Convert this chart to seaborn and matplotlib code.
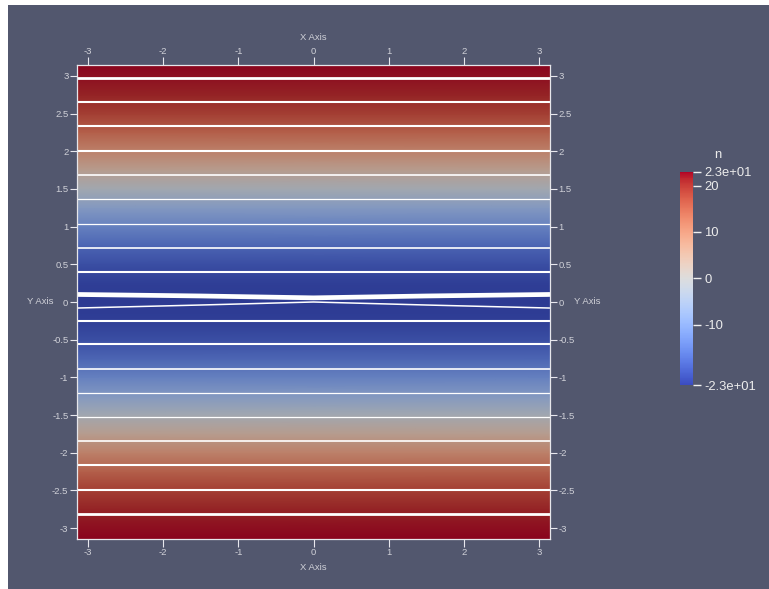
import numpy as np
import pandas as pd
import matplotlib
matplotlib.use("Agg")
import matplotlib.pyplot as plt
from matplotlib.colors import ListedColormap, Normalize
from matplotlib.patches import Rectangle
import matplotlib.cm as cm
import seaborn as sns

# ---------------- data ----------------
y_samples = [-3.1416, -2.75, -2.5, -2.25, -2.0, -1.75, -1.5, -1.25, -1.0, -0.75, -0.5, -0.25, 0.0,
             0.25, 0.5, 0.75, 1.0, 1.25, 1.5, 1.75, 2.0, 2.25, 2.5, 2.75, 3.1416]
n_values = [23.0, 21.1, 18.4, 14.4, 9.6, 4.1, -1.6, -7.3, -12.4, -16.8, -20.2, -22.3, -23.0,
            -22.3, -20.2, -16.8, -12.4, -7.3, -1.6, 4.1, 9.6, 14.4, 18.4, 21.1, 23.0]
x_extent = [-3.1416, 3.1416]

stream_levels = [2.97, 2.66, 2.33, 2.00, 1.69, 1.37, 1.04, 0.72, 0.40,
                 -0.25, -0.56, -0.89, -1.21, -1.53, -1.85, -2.17, -2.49, -2.81]
stream_widths = [2.0, 1.5, 1.5, 1.5, 1.2, 0.9, 0.9, 1.2, 1.5,
                 1.5, 1.5, 1.2, 0.9, 0.9, 1.2, 1.5, 1.5, 2.0]
core_x = [-3.1416, -1.5, 0.0, 1.5, 3.1416]
core_upper_y = [0.10, 0.08, 0.055, 0.08, 0.10]
core_lower_y = [-0.08, -0.04, 0.0, -0.04, -0.08]
core_widths = [3.4, 1.1]

x_ticks = [-3, -2, -1, 0, 1, 2, 3]
y_ticks = [-3, -2.5, -2, -1.5, -1, -0.5, 0, 0.5, 1, 1.5, 2, 2.5, 3]
x_ticklabels = ["-3", "-2", "-1", "0", "1", "2", "3"]
y_ticklabels = ["-3", "-2.5", "-2", "-1.5", "-1", "-0.5", "0", "0.5", "1", "1.5", "2", "2.5", "3"]
cbar_ticks = [23, 20, 10, 0, -10, -23]
cbar_ticklabels = ["2.3e+01", "20", "10", "0", "-10", "-2.3e+01"]
n_min, n_max = -23.0, 23.0

# ---------------- style ----------------
sns.set_style("white")
plt.rcParams["font.family"] = ["Liberation Sans", "DejaVu Sans"]

W, H = 769, 589
fig = plt.figure(figsize=(W / 100, H / 100), dpi=100, facecolor="white")
bg = "#52576e"
fig.patches.append(Rectangle((8 / W, 0), 1 - 8 / W, 1 - 5 / H, transform=fig.transFigure,
                             facecolor=bg, edgecolor="none", zorder=-10))

ax = fig.add_axes([77.4 / W, (H - 538.7) / H, 472.2 / W, 473.4 / H])
ax.set_facecolor(bg)

base = plt.get_cmap("coolwarm")
dark = base(np.linspace(0, 1, 256))
dark[:, :3] *= 0.76
cmap_img = ListedColormap(dark)

X, Y = np.meshgrid(np.array(x_extent), np.array(y_samples))
C = np.repeat(np.array(n_values)[:, None], len(x_extent), axis=1)
ax.pcolormesh(X, Y, C, shading="gouraud", cmap=cmap_img, vmin=n_min, vmax=n_max, zorder=1)

# streamlines
rows = []
for i, (lv, w) in enumerate(zip(stream_levels, stream_widths)):
    for xx in x_extent:
        rows.append({"x": xx, "y": lv, "line": i, "w": w})
for j, (ys, w) in enumerate(zip([core_upper_y, core_lower_y], core_widths)):
    for xx, yy in zip(core_x, ys):
        rows.append({"x": xx, "y": yy, "line": 100 + j, "w": w})
df = pd.DataFrame(rows)
wvals = sorted(df["w"].unique())
sns.lineplot(data=df, x="x", y="y", units="line", estimator=None, sort=False,
             size="w", sizes={v: v for v in wvals}, color="white",
             legend=False, ax=ax, zorder=3)

ax.set_xlim(-np.pi, np.pi)
ax.set_ylim(-np.pi, np.pi)
ax.set_xlabel("")
ax.set_ylabel("")

tick_col = "#d0d1d8"
ax.set_xticks(x_ticks)
ax.set_xticklabels(x_ticklabels)
ax.set_yticks(y_ticks)
ax.set_yticklabels(y_ticklabels)
ax.tick_params(axis="x", which="both", direction="inout", length=11, width=0.8, color="#e8e8ee",
               top=True, bottom=True, labeltop=True, labelbottom=True, labelsize=6.8,
               labelcolor=tick_col, pad=1.5)
ax.tick_params(axis="y", which="both", direction="inout", length=10, width=0.8, color="#e8e8ee",
               left=True, right=True, labelleft=True, labelright=True, labelsize=6.8,
               labelcolor=tick_col, pad=1.5)
for s in ax.spines.values():
    s.set_color("#e6e6ea")
    s.set_linewidth(0.9)
    s.set_zorder(5)

lab_kw = dict(color=tick_col, fontsize=6.8, ha="center", va="center")
fig.text(313 / W, 1 - 37 / H, "X Axis", **lab_kw)
fig.text(313 / W, 1 - 567 / H, "X Axis", **lab_kw)
fig.text(40 / W, 1 - 302 / H, "Y Axis", **lab_kw)
fig.text(587 / W, 1 - 302 / H, "Y Axis", **lab_kw)

# colorbar
cax = fig.add_axes([680 / W, (H - 385) / H, 13 / W, 213.3 / H])
sm = cm.ScalarMappable(norm=Normalize(n_min, n_max), cmap=base)
cb = fig.colorbar(sm, cax=cax)
cb.outline.set_visible(False)
cb.set_ticks(cbar_ticks)
cb.set_ticklabels(cbar_ticklabels)
cax.tick_params(direction="out", length=6, width=1.0, color="#f0f0f0", labelsize=9.4,
                labelcolor="#ececec", pad=2)
fig.text(718 / W, 1 - 155 / H, "n", color="#ececec", fontsize=9.4, ha="center", va="center")

fig.savefig("out.png", dpi=100, facecolor=fig.get_facecolor())
